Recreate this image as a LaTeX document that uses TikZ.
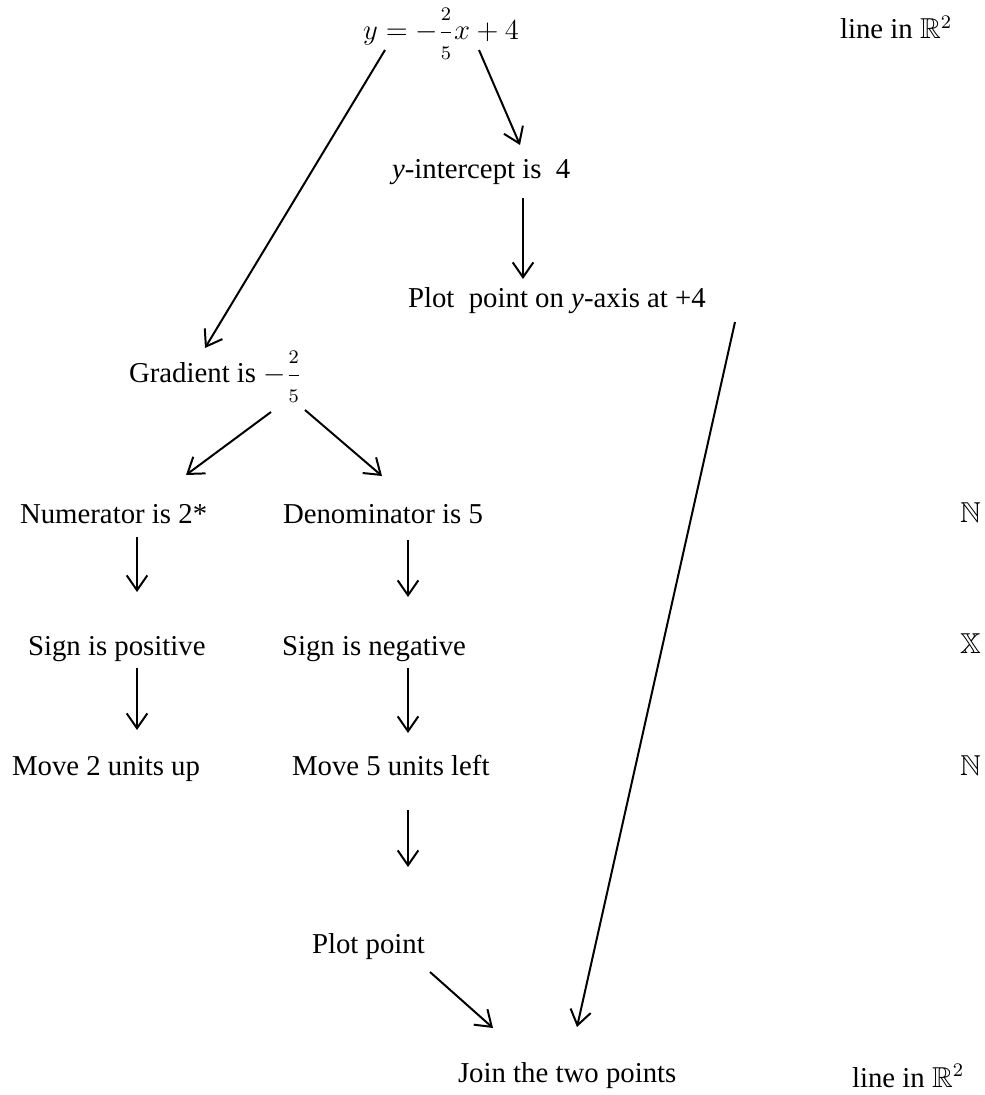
\documentclass[tikz,border=0pt]{standalone}
\usepackage{fontspec}
\setmainfont{Liberation Serif}
\usepackage{amssymb}
\usetikzlibrary{
  calc,
  arrows.meta
}
% A fraction with small digits set apart as in the reference.
\newcommand{\smallfrac}[2]{{\displaystyle\frac{\scriptstyle #1}{\scriptstyle #2}}}
\tikzset{
  % Shared values that are assigned to different keys in the styles below.
  globals/px/.initial=0.4167pt,
  globals/link width/.initial=0.83pt,
%
  % For the text of each stage; placed by its baseline.
  stage/.style={
    anchor=base west,
    inner sep=0pt,
    outer sep=0pt,
    font={\fontsize{12pt}{14pt}\selectfont}},
%
  % For the arrows between stages.
  link/.style={
    line width=\pgfkeysvalueof{/tikz/globals/link width},
    -{Straight Barb[length=6.2pt,width=8.6pt]}}
}

\begin{document}
\begin{tikzpicture}[x=\pgfkeysvalueof{/tikz/globals/px},
                    y=-\pgfkeysvalueof{/tikz/globals/px}]
  \useasboundingbox (0,0) rectangle (984,1095);

  \node[stage] (eqn)      at (363,40)   {$y=-\smallfrac{2}{5}x+4$};
  \node[stage] (lineTop)  at (840,39)   {line in $\mathbb{R}^2$};
  \node[stage] (yint)     at (392,179)  {\textit{y}-intercept is\ \ 4};
  \node[stage] (plotY)    at (408,308)  {Plot\ \ point on \textit{y}-axis at +4};
  \node[stage] (grad)     at (129,383)  {Gradient is $-\smallfrac{2}{5}$};
  \node[stage] (numer)    at (20,523)   {Numerator is 2*};
  \node[stage] (denom)    at (283,523)  {Denominator is 5};
  \node[stage] (natA)     at (960,522)  {$\mathbb{N}$};
  \node[stage] (signPos)  at (28,655)   {Sign is positive};
  \node[stage] (signNeg)  at (282,655)  {Sign is negative};
  \node[stage] (setX)     at (960,653)  {$\mathbb{X}$};
  \node[stage] (moveUp)   at (12,775)   {Move 2 units up};
  \node[stage] (moveLeft) at (292,775)  {Move 5 units left};
  \node[stage] (natB)     at (960,775)  {$\mathbb{N}$};
  \node[stage] (plotPt)   at (312,953)  {Plot point};
  \node[stage] (join)     at (458,1082) {Join the two points};
  \node[stage] (lineBot)  at (852,1087) {line in $\mathbb{R}^2$};

  % Offsets are taken from each node's base west corner.
  \draw[link] ($(eqn.base west)+(22,10)$)       -- ($(grad.base west)+(76,-35)$);
  \draw[link] ($(eqn.base west)+(116,10)$)      -- ($(yint.base west)+(128,-34)$);
  \draw[link] ($(yint.base west)+(131,19)$)     -- ($(plotY.base west)+(115,-29)$);
  \draw[link] ($(plotY.base west)+(327,14)$)    -- ($(join.base west)+(119,-55)$);

  \draw[link] ($(grad.base west)+(142,29)$)     -- ($(numer.base west)+(166,-48)$);
  \draw[link] ($(grad.base west)+(176,27)$)     -- ($(denom.base west)+(99,-47)$);

  \draw[link] ($(numer.base west)+(117,14)$)    -- ($(signPos.base west)+(109,-63)$);
  \draw[link] ($(denom.base west)+(125,17)$)    -- ($(signNeg.base west)+(126,-58)$);
  \draw[link] ($(signPos.base west)+(109,13)$)  -- ($(moveUp.base west)+(125,-45)$);
  \draw[link] ($(signNeg.base west)+(126,13)$)  -- ($(moveLeft.base west)+(116,-42)$);

  \draw[link] ($(moveLeft.base west)+(116,35)$) -- ($(plotPt.base west)+(96,-86)$);
  \draw[link] ($(plotPt.base west)+(118,19)$)   -- ($(join.base west)+(35,-54)$);
\end{tikzpicture}
\end{document}
